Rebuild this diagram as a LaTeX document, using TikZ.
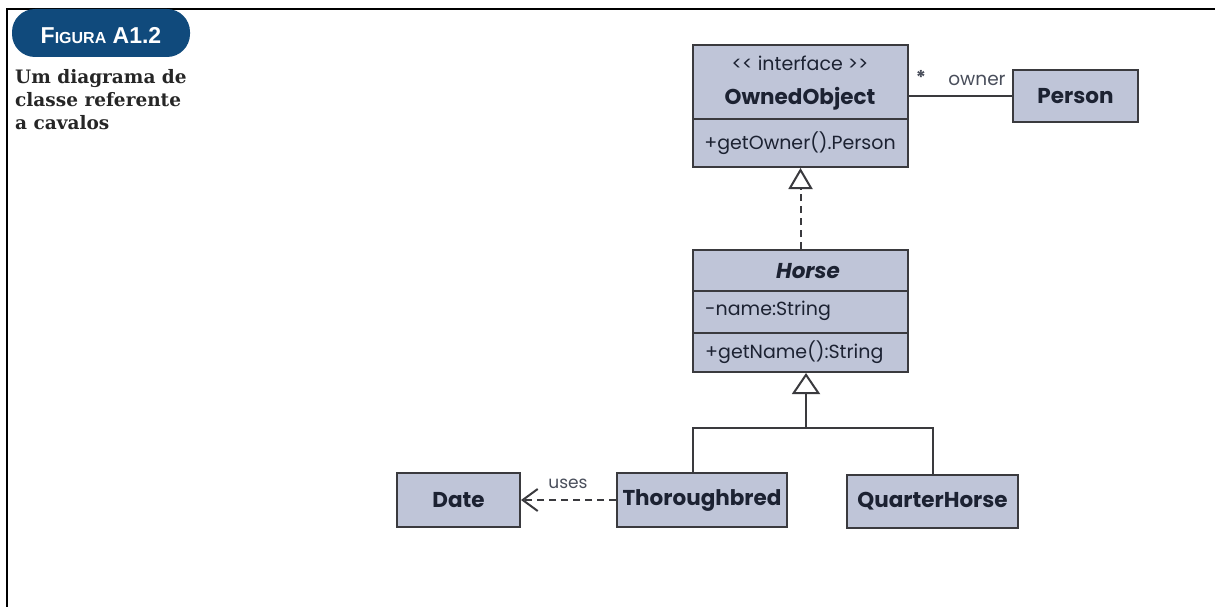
\documentclass[tikz,border=0pt]{standalone}
\usepackage{fontspec}
\setmainfont{Poppins}
\newfontfamily\capfont{DejaVu Serif}
\newfontfamily\badgefont{Liberation Sans}
\usetikzlibrary{arrows.meta}

\definecolor{boxfill}{RGB}{191,197,216}
\definecolor{boxline}{RGB}{58,58,62}
\definecolor{ink}{RGB}{28,34,50}
\definecolor{badge}{RGB}{16,74,124}
\definecolor{captionink}{RGB}{38,38,38}

\tikzset{
  umlbox/.style={draw=boxline, fill=boxfill, line width=2pt, inner sep=0pt, text=ink},
  classname/.style={inner sep=0pt, text=ink, font=\fontsize{21.5}{21.5}\selectfont\bfseries},
  member/.style={inner sep=0pt, text=ink, font=\fontsize{19}{19}\selectfont},
  relation/.style={draw=boxline, line width=2pt},
  dashrel/.style={relation, dash pattern=on 7pt off 5pt},
  rolelabel/.style={inner sep=0pt, text=ink!80, font=\fontsize{17}{17}\selectfont},
}

\begin{document}
\begin{tikzpicture}[x=1pt,y=-1pt]
\useasboundingbox (0,0) rectangle (1215,607);
\fill[white] (0,0) rectangle (1215,607);

% frame of the figure
\draw[line width=2.5pt, black] (7,608) -- (7,9) -- (1216,9);

% figure badge and caption
\fill[badge, rounded corners=23pt] (12,9) rectangle (190,57);
\node[inner sep=0pt, text=white, anchor=base] (badgetext) at (101,44)
  {\badgefont\bfseries\fontsize{23}{23}\selectfont F\fontsize{16}{16}\selectfont IGURA\fontsize{23}{23}\selectfont{} A1.2};
\node[inner sep=0pt, anchor=north west, align=left, text=captionink,
      font=\capfont\bfseries\fontsize{18.5}{23}\selectfont] (caption) at (15,69)
  {Um diagrama de\\classe referente\\a cavalos};

% interface OwnedObject
\node[umlbox, minimum width=215pt, minimum height=74pt] (ownedHead) at (800.5,82) {};
\node[umlbox, minimum width=215pt, minimum height=48pt] (ownedOps) at (800.5,143) {};
\node[member] (stereo) at (800,63) {{<}{<} interface {>}{>}};
\node[classname] (ownedName) at (800,99) {OwnedObject};
\node[member] (ownedOp) at (800,143) {+getOwner().Person};

% class Person
\node[umlbox, minimum width=125pt, minimum height=52pt, classname] (person) at (1075.5,96) {Person};

% abstract class Horse
\node[umlbox, minimum width=215pt, minimum height=41pt] (horseName) at (800.5,270.5) {};
\node[umlbox, minimum width=215pt, minimum height=42pt] (horseAttr) at (800.5,312) {};
\node[umlbox, minimum width=215pt, minimum height=39pt] (horseOps) at (800.5,352.5) {};
\node[classname, font=\fontsize{21.5}{21.5}\selectfont\bfseries\itshape] (horseTitle) at (808,271) {Horse};
\node[member, anchor=west] (horseField) at (705,311) {-name:String};
\node[member, anchor=west] (horseMethod) at (705,352) {+getName():String};

% subclasses and Date
\node[umlbox, minimum width=170pt, minimum height=54pt, classname] (thor) at (702,500) {Thoroughbred};
\node[umlbox, minimum width=171pt, minimum height=53pt, classname] (quarter) at (932.5,501.5) {QuarterHorse};
\node[umlbox, minimum width=123pt, minimum height=54pt, classname] (date) at (458.5,500) {Date};

% association OwnedObject -- Person
\draw[relation] (person.west) -- (person.west -| ownedHead.east);
\node[rolelabel, font=\fontsize{19}{19}\selectfont\bfseries] (mult) at (921,77) {*};
\node[rolelabel, font=\fontsize{18.5}{18.5}\selectfont] (role) at (977,80) {owner};

% realization Horse -> OwnedObject
\draw[dashrel, -{Triangle[open, width=24pt, length=21pt, line width=2pt, fill=white]}]
  (horseName.north) -- (ownedOps.south);

% generalization of the subclasses
\coordinate (bus) at (806,428);
\draw[relation] ([xshift=-9pt]thor.north) |- (bus) -| (quarter.north);
\draw[relation, -{Triangle[open, width=28pt, length=21pt, line width=2pt, fill=white]}]
  (bus) -- (horseOps.south -| bus);

% dependency Thoroughbred -> Date
\draw[dashrel, -{Straight Barb[length=15pt, width=22pt, line width=2pt]}] (thor.west) -- (date.east);
\node[rolelabel] (uses) at (568,484) {uses};
\end{tikzpicture}
\end{document}
